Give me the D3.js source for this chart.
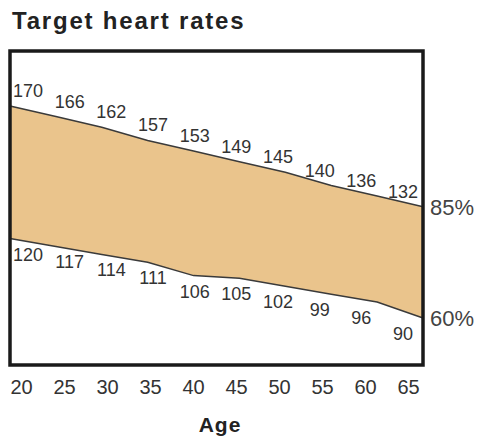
<!DOCTYPE html>
<html>
<head>
<meta charset="utf-8">
<script src="https://cdn.jsdelivr.net/npm/d3@7"></script>
<style>
  body { margin: 0; background: #fff; }
  svg text { font-family: "Liberation Sans", Arial, Helvetica, sans-serif; }
</style>
</head>
<body>
<div id="chart"></div>
<script>
// Chart data
var ages = [20, 25, 30, 35, 40, 45, 50, 55, 60, 65];
var upperRates = [170, 166, 162, 157, 153, 149, 145, 140, 136, 132]; // 85%
var lowerRates = [120, 117, 114, 111, 106, 105, 102, 99, 96, 90];    // 60%
var bandLabels = ["85%", "60%"];

function init() {
    var svgWidth = 479;
    var svgHeight = 440;
    var left = 10, right = 423, top = 51, bottom = 365; // plot frame

    // scales
    var xScale = d3.scaleLinear().domain([20, 65]).range([left, right]);
    var xTick = d3.scaleLinear().domain([20, 65]).range([21, 408]);   // axis labels sit inside the frame
    var xLabel = d3.scaleLinear().domain([20, 65]).range([28, 403]);  // value labels along the band
    var yScale = d3.scaleLinear().domain([90, 170]).range([318, 106]);

    var rows = ages.map(function(a, i) {
        return { age: a, hi: upperRates[i], lo: lowerRates[i] };
    });

    var svg = d3.select("#chart")
        .append("svg")
        .attr("width", svgWidth)
        .attr("height", svgHeight);

    // title
    svg.append("text")
        .attr("x", 12)
        .attr("y", 29)
        .attr("font-size", "24px")
        .attr("font-weight", "bold")
        .attr("letter-spacing", "1.8px")
        .attr("fill", "#222")
        .text("Target heart rates");

    // band
    var area = d3.area()
        .x(function(d) { return xScale(d.age); })
        .y0(function(d) { return yScale(d.lo); })
        .y1(function(d) { return yScale(d.hi); });

    svg.append("path")
        .datum(rows)
        .attr("d", area)
        .attr("fill", "#eac48c");

    var upperLine = d3.line().x(function(d) { return xScale(d.age); }).y(function(d) { return yScale(d.hi); });
    var lowerLine = d3.line().x(function(d) { return xScale(d.age); }).y(function(d) { return yScale(d.lo); });

    svg.append("path").datum(rows).attr("d", upperLine)
        .attr("fill", "none").attr("stroke", "#3a3a3a").attr("stroke-width", 1.5);
    svg.append("path").datum(rows).attr("d", lowerLine)
        .attr("fill", "none").attr("stroke", "#3a3a3a").attr("stroke-width", 1.5);

    // frame
    svg.append("rect")
        .attr("x", left)
        .attr("y", top)
        .attr("width", right - left)
        .attr("height", bottom - top)
        .attr("fill", "none")
        .attr("stroke", "#1a1a1a")
        .attr("stroke-width", 3.5);

    // value labels
    svg.selectAll("text.hi")
        .data(rows)
        .enter()
        .append("text")
        .attr("class", "hi")
        .attr("x", function(d) { return xLabel(d.age); })
        .attr("y", function(d) { return yScale(d.hi) - 9; })
        .attr("text-anchor", "middle")
        .attr("font-size", "18px")
        .attr("fill", "#333")
        .text(function(d) { return d.hi; });

    svg.selectAll("text.lo")
        .data(rows)
        .enter()
        .append("text")
        .attr("class", "lo")
        .attr("x", function(d) { return xLabel(d.age); })
        .attr("y", function(d) { return yScale(d.lo) + 22; })
        .attr("text-anchor", "middle")
        .attr("font-size", "18px")
        .attr("fill", "#333")
        .text(function(d) { return d.lo; });

    // percentage labels at the right end
    var last = rows[rows.length - 1];
    svg.selectAll("text.pct")
        .data([last.hi, last.lo])
        .enter()
        .append("text")
        .attr("class", "pct")
        .attr("x", right + 7)
        .attr("y", function(d) { return yScale(d) + 8; })
        .attr("font-size", "22px")
        .attr("fill", "#444")
        .text(function(d, i) { return bandLabels[i]; });

    // x axis labels
    var xAxis = d3.axisBottom(xTick).tickValues(ages).tickSize(0).tickPadding(0);
    var gx = svg.append("g")
        .attr("transform", "translate(0," + 380 + ")")
        .call(xAxis);
    gx.select(".domain").remove();
    gx.selectAll("text")
        .attr("font-size", "20px")
        .attr("font-family", null)
        .attr("fill", "#333")
        .attr("dy", "0.71em");

    svg.append("text")
        .attr("x", 220)
        .attr("y", 432)
        .attr("text-anchor", "middle")
        .attr("font-size", "21px")
        .attr("font-weight", "bold")
        .attr("letter-spacing", "1px")
        .attr("fill", "#222")
        .text("Age");
}
window.onload = init;
</script>
</body>
</html>
